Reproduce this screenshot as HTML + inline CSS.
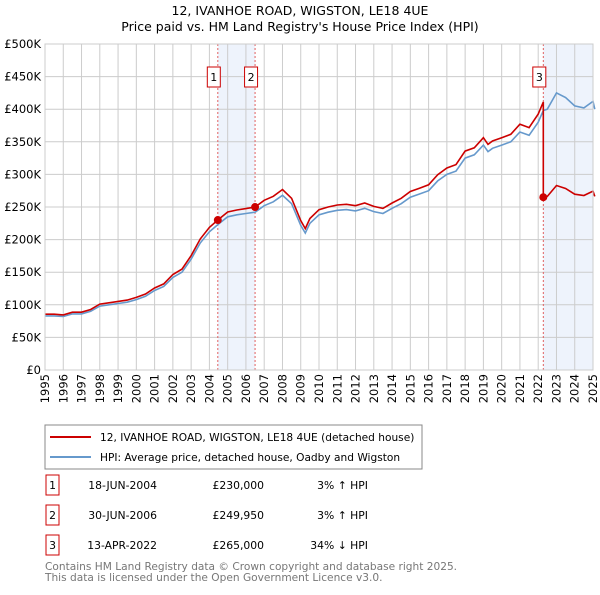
<!DOCTYPE html>
<html><head><meta charset="utf-8"><style>
body{margin:0;background:#fff;font-family:"Liberation Sans","DejaVu Sans",sans-serif;}
svg text{font-family:"DejaVu Sans","Liberation Sans",sans-serif;}
</style></head><body>
<svg id="c" width="600" height="590" xmlns="http://www.w3.org/2000/svg">
<text x="300" y="15" text-anchor="middle" font-size="12.5">12, IVANHOE ROAD, WIGSTON, LE18 4UE</text>
<text x="300" y="31" text-anchor="middle" font-size="12.5">Price paid vs. HM Land Registry's House Price Index (HPI)</text>
<g id="plot"></g>
<rect x="45" y="425" width="377" height="44" fill="#fff" stroke="#888"/>
<line x1="50" y1="437" x2="91" y2="437" stroke="#cc0000" stroke-width="2"/>
<text x="100" y="441" font-size="10.6">12, IVANHOE ROAD, WIGSTON, LE18 4UE (detached house)</text>
<line x1="50" y1="457" x2="91" y2="457" stroke="#6699cc" stroke-width="2"/>
<text x="100" y="461" font-size="10.6">HPI: Average price, detached house, Oadby and Wigston</text>
<g id="table" font-size="10.8"></g>
<text x="45" y="570" font-size="10.6" fill="#777">Contains HM Land Registry data © Crown copyright and database right 2025.</text>
<text x="45" y="581" font-size="10.6" fill="#777">This data is licensed under the Open Government Licence v3.0.</text>
</svg>
<script>
const hpiYears=[1995,1995.5,1996,1996.5,1997,1997.5,1998,1998.5,1999,1999.5,2000,2000.5,2001,2001.5,2002,2002.5,2003,2003.5,2004,2004.46,2005,2005.5,2006,2006.5,2007,2007.5,2008,2008.5,2009,2009.25,2009.5,2010,2010.5,2011,2011.5,2012,2012.5,2013,2013.5,2014,2014.5,2015,2015.5,2016,2016.5,2017,2017.5,2018,2018.5,2019,2019.25,2019.5,2020,2020.5,2021,2021.5,2022,2022.28,2022.5,2023,2023.5,2024,2024.5,2025,2025.1];
const hpiValues=[83,83,82,86,86,90,98,100,102,104,108,113,122,128,142,150,170,195,212,223,235,238,240,242,252,258,268,255,222,210,225,238,242,245,246,244,248,243,240,248,255,265,270,275,290,300,305,325,330,345,335,340,345,350,365,360,380,398,400,425,418,405,402,412,400];
const saleLabels=["1","2","3"];
const saleDates=[2004.46,2006.5,2022.28];
const salePrices=[230,249.95,265];
const saleDateText=["18-JUN-2004","30-JUN-2006","13-APR-2022"];
const salePriceText=["£230,000","£249,950","£265,000"];
const saleHpiText=["3% ↑ HPI","3% ↑ HPI","34% ↓ HPI"];
const yTicks=[0,50,100,150,200,250,300,350,400,450,500];
const yTickLabels=["£0","£50K","£100K","£150K","£200K","£250K","£300K","£350K","£400K","£450K","£500K"];
const xTicks=[1995,1996,1997,1998,1999,2000,2001,2002,2003,2004,2005,2006,2007,2008,2009,2010,2011,2012,2013,2014,2015,2016,2017,2018,2019,2020,2021,2022,2023,2024,2025];

const L=45,R=593,T=44,B=370;
const X=v=>L+(v-1995)/30*(R-L);
const Y=v=>B-v/500*(B-T);
const NS="http://www.w3.org/2000/svg";
const plot=document.getElementById('plot');
function mk(tag,attrs,parent){const e=document.createElementNS(NS,tag);for(const k in attrs)e.setAttribute(k,attrs[k]);(parent||plot).appendChild(e);return e;}
function hpiAt(t){for(let i=1;i<hpiYears.length;i++){if(t<=hpiYears[i]){const f=(t-hpiYears[i-1])/(hpiYears[i]-hpiYears[i-1]);return hpiValues[i-1]+f*(hpiValues[i]-hpiValues[i-1]);}}return hpiValues[hpiValues.length-1];}

const sh1=mk('rect',{x:X(saleDates[0]),y:T,width:X(saleDates[1])-X(saleDates[0]),height:B-T,fill:'#eef3fc'});


const sh2=mk('rect',{x:X(saleDates[2]),y:T,width:R-X(saleDates[2]),height:B-T,fill:'#eef3fc'});


yTicks.forEach((v,i)=>{
  const g=mk('line',{x1:L,x2:R,y1:Y(v),y2:Y(v),stroke:'#ccc'});
  
  
  const t=mk('text',{x:L-4,y:Y(v)+4,'text-anchor':'end','font-size':'11.5'});
  t.textContent=yTickLabels[i];
  
  
});
xTicks.forEach(v=>{
  const g=mk('line',{x1:X(v),x2:X(v),y1:T,y2:B,stroke:'#ccc'});
  
  
  const t=mk('text',{x:0,y:0,'text-anchor':'end','font-size':'11.5',transform:`translate(${X(v)+4},${B+4}) rotate(-90)`});
  t.textContent=v;
  
  
});
saleDates.forEach(d=>{
  const l=mk('line',{x1:X(d),x2:X(d),y1:T,y2:B,stroke:'#e06060','stroke-dasharray':'2,2'});
  
  
});
let hp=hpiYears.map((y,i)=>`${X(y).toFixed(1)},${Y(hpiValues[i]).toFixed(1)}`).join(' ');
const hl=mk('polyline',{points:hp,fill:'none',stroke:'#6699cc','stroke-width':1.6});


const redPts=[];
hpiYears.forEach((y,i)=>{
  let k;
  if(y<saleDates[1]) k=salePrices[0]/hpiAt(saleDates[0]);
  else if(y<saleDates[2]) k=salePrices[1]/hpiAt(saleDates[1]);
  else k=salePrices[2]/hpiAt(saleDates[2]);
  if(y===saleDates[2]) redPts.push([y,hpiValues[i]*salePrices[1]/hpiAt(saleDates[1])]);
  redPts.push([y,hpiValues[i]*k]);
});
const rl=mk('polyline',{points:redPts.map(p=>`${X(p[0]).toFixed(1)},${Y(p[1]).toFixed(1)}`).join(' '),fill:'none',stroke:'#cc0000','stroke-width':1.6});


mk('rect',{x:L,y:T,width:R-L,height:B-T,fill:'none',stroke:'#ccc'});
saleDates.forEach((d,i)=>{
  const c=mk('circle',{cx:X(d),cy:Y(salePrices[i]),r:4,fill:'#cc0000'});
  
  
  const b=mk('rect',{x:X(d)-10.5,y:67,width:13,height:20,fill:'#fff',stroke:'#cc0000'});
  
  
  const t=mk('text',{x:X(d)-4,y:81,'text-anchor':'middle','font-size':'11'});
  t.textContent=saleLabels[i];
  
  
});
const tb=document.getElementById('table');
saleLabels.forEach((s,i)=>{
  const y=484+i*30;
  const b=mk('rect',{x:46,y:y-9,width:13,height:20,fill:'#fff',stroke:'#cc0000'},tb);
  
  
  const vals=[[52.5,s,'middle'],[157,saleDateText[i],'end'],[264,salePriceText[i],'end'],[368,saleHpiText[i],'end']];
  vals.forEach((v,j)=>{
    const t=mk('text',{x:v[0],y:y+5,'text-anchor':v[2]},tb);
    t.textContent=v[1];
    
    
  });
});
</script>
</body></html>
